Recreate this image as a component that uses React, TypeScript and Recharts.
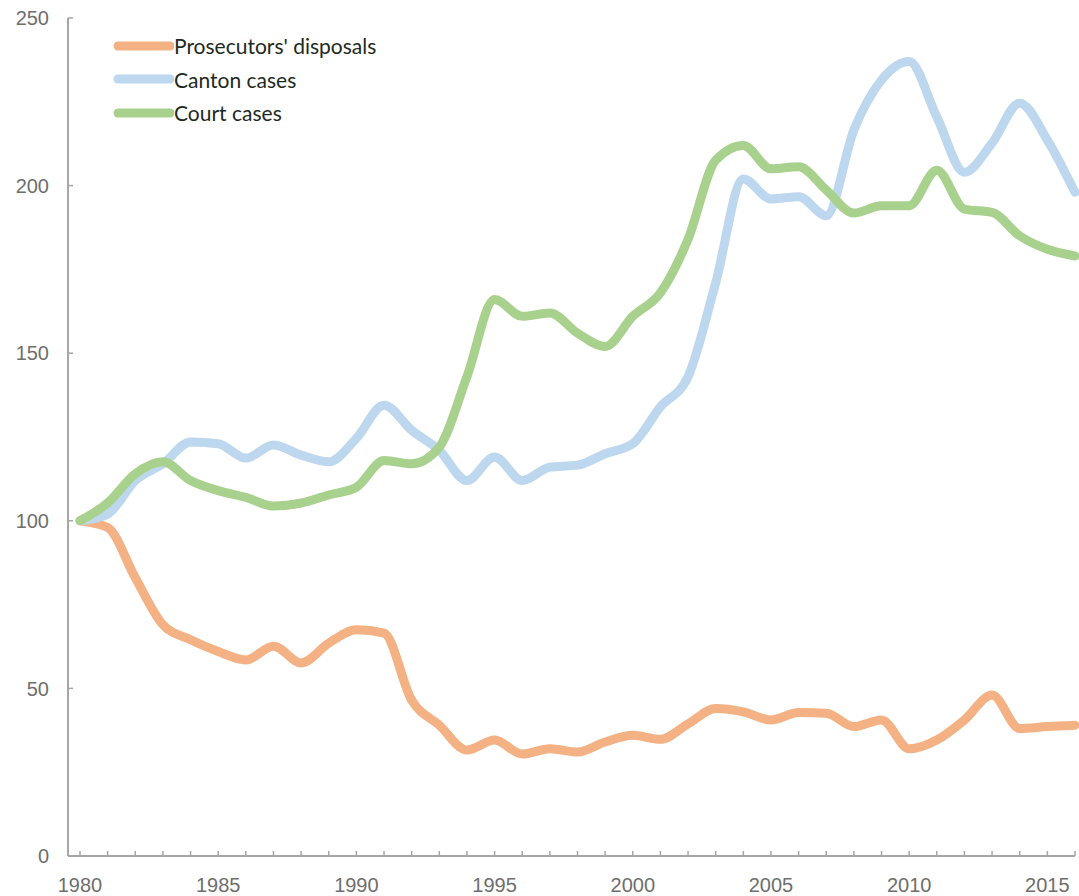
import React from 'react';
import { LineChart, Line, XAxis, YAxis } from 'recharts';

const years = [
  1980, 1981, 1982, 1983, 1984, 1985, 1986, 1987, 1988, 1989,
  1990, 1991, 1992, 1993, 1994, 1995, 1996, 1997, 1998, 1999,
  2000, 2001, 2002, 2003, 2004, 2005, 2006, 2007, 2008, 2009,
  2010, 2011, 2012, 2013, 2014, 2015, 2016,
];
const prosecutors = [
  100, 98, 83, 69, 64.5, 61, 58.5, 62.6, 57.6, 63.5,
  67.5, 66.5, 46.5, 39, 31.6, 34.6, 30.4, 32, 31, 34,
  36, 34.8, 39.4, 44, 43, 40.6, 42.8, 42.6, 38.6, 40.6,
  32, 34.6, 40.6, 48, 38, 38.6, 39,
];
const canton = [
  100, 102, 112, 117, 123.5, 123, 118.7, 122.6, 119.6, 117.6,
  124.6, 134.5, 127, 121, 112, 119, 112, 116, 116.6, 120,
  123, 134, 143, 171, 202, 196, 196.7, 191, 216.6, 231.5,
  237, 220.5, 204, 212.7, 224.6, 213.6, 198,
];
const court = [
  100, 105.3, 114, 117.6, 112, 109, 107, 104.4, 105.3, 107.7,
  110, 118, 117, 122, 143, 166, 161, 162, 156, 152,
  161, 168, 184, 207.6, 212, 205, 205.6, 198.7, 191.8, 194,
  194, 204.6, 193, 192, 185, 181, 179,
];
const yTicks = [0, 50, 100, 150, 200, 250];

const seriesInfo = [
  { key: 'prosecutors', name: "Prosecutors' disposals", color: '#F4B183' },
  { key: 'canton', name: 'Canton cases', color: '#BDD7EE' },
  { key: 'court', name: 'Court cases', color: '#A9D18E' },
];

const data = years.map((year, i) => ({
  year,
  prosecutors: prosecutors[i],
  canton: canton[i],
  court: court[i],
}));

const axisColor = '#a6a6a6';
const labelColor = '#6e6e6e';

function XTick(props: any) {
  const { x, y, payload } = props;
  const show = payload.value % 5 === 0;
  return (
    <g>
      <line x1={x} x2={x} y1={y} y2={y - 5} stroke={axisColor} strokeWidth={1.5} />
      {show && (
        <text x={x} y={y + 36} textAnchor="middle" fill={labelColor}
          style={{ fontFamily: 'Liberation Sans, Arial, sans-serif', fontSize: 20 }}>
          {payload.value}
        </text>
      )}
    </g>
  );
}

function YTick(props: any) {
  const { x, y, payload } = props;
  return (
    <g>
      <line x1={x} x2={x + 5} y1={y} y2={y} stroke={axisColor} strokeWidth={1.5} />
      <text x={x - 19} y={y} dy="0.36em" textAnchor="end" fill={labelColor}
        style={{ fontFamily: 'Liberation Sans, Arial, sans-serif', fontSize: 20 }}>
        {payload.value}
      </text>
    </g>
  );
}

// legend drawn as an overlay so it does not push the plot area
function LegendBox() {
  return (
    <div style={{ position: 'absolute', left: 112, top: 29, display: 'flex', flexDirection: 'column' }}>
      {seriesInfo.map((s) => (
        <div key={s.key} style={{ display: 'flex', alignItems: 'center', height: 33.5 }}>
          <svg width={62} height={12} style={{ display: 'block' }}>
            <line x1={6} x2={58} y1={6} y2={6} stroke={s.color} strokeWidth={9} strokeLinecap="round" />
          </svg>
          <span style={{ fontFamily: 'Lato, sans-serif', fontSize: 21, color: '#1e2a1e', marginLeft: 0 }}>
            {s.name}
          </span>
        </div>
      ))}
    </div>
  );
}

export default function App() {
  return (
    <div style={{ position: 'absolute', left: 0, top: 0, width: 1079, height: 896, background: '#fff' }}>
      <LineChart width={1079} height={896} data={data} margin={{ top: 18, right: 4, bottom: 0, left: 0 }}>
        <XAxis
          dataKey="year"
          type="number"
          domain={[1980, 2016]}
          ticks={years}
          interval={0}
          padding={{ left: 12, right: 0 }}
          height={40}
          tickSize={0}
          tickMargin={0}
          tickLine={false}
          axisLine={{ stroke: axisColor, strokeWidth: 2 }}
          tick={<XTick />}
        />
        <YAxis
          domain={[0, 250]}
          ticks={yTicks}
          width={68}
          tickSize={0}
          tickMargin={0}
          tickLine={false}
          axisLine={{ stroke: axisColor, strokeWidth: 2 }}
          tick={<YTick />}
        />
        {seriesInfo.map((s) => (
          <Line
            key={s.key}
            type="monotone"
            dataKey={s.key}
            name={s.name}
            stroke={s.color}
            strokeWidth={9}
            strokeLinecap="round"
            strokeLinejoin="round"
            dot={false}
            activeDot={false}
            isAnimationActive={false}
          />
        ))}
      </LineChart>
      <LegendBox />
    </div>
  );
}
